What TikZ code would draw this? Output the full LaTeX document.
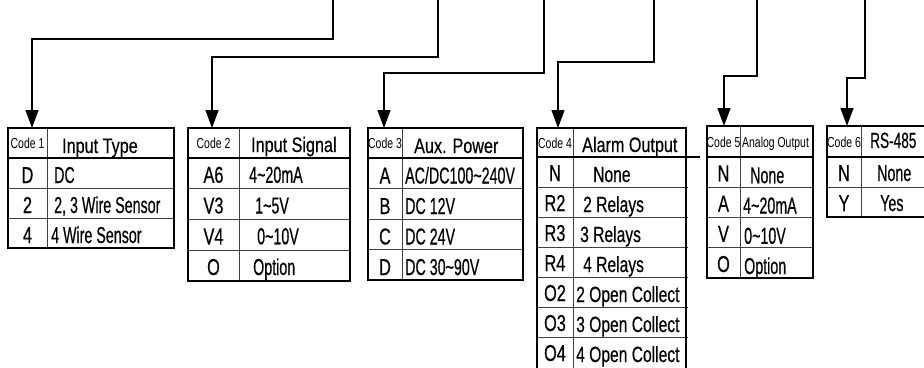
\documentclass[tikz,border=0pt]{standalone}
\usepackage{fontspec}
\setmainfont{Liberation Sans}[FakeStretch=0.62, FakeBold=0.4]
\newfontfamily\headfont{Liberation Sans}[FakeStretch=0.77, FakeBold=0.4]
\newfontfamily\widefont{Liberation Sans}[FakeStretch=0.71, FakeBold=0.4]
\newfontfamily\codefont{Liberation Sans}[FakeStretch=0.72]
\usetikzlibrary{arrows.meta}

\begin{document}
\begin{tikzpicture}[x=1pt, y=-1pt,
  frame/.style={line width=2.6pt},
  grid/.style={line width=1pt, black!75},
  conn/.style={line width=1.3pt, -{Triangle[length=18pt, width=13pt]}},
  cell/.style={inner sep=0pt, anchor=base west, font=\fontsize{23}{25}\selectfont},
  widecell/.style={cell, font=\widefont\fontsize{22}{25}\selectfont},
  head/.style={inner sep=0pt, anchor=base west, font=\headfont\fontsize{21}{23}\selectfont},
  key/.style={inner sep=0pt, anchor=base, font=\widefont\fontsize{23}{25}\selectfont},
  codelab/.style={inner sep=0pt, anchor=base, font=\codefont\fontsize{14.5}{16}\selectfont}]

\useasboundingbox (0,0) rectangle (924,367);

% ============================================================
%  TABLE 1  --  Input Type
% ============================================================
% frame (8,128) to (174,248), key column up to x = 47
\draw[grid] (47,128) -- (47,248);
\foreach \y in {188,218} \draw[grid] (8,\y) -- (174,\y);
\draw[frame] (8,158) -- (174,158);
\draw[frame] (8,128) rectangle (174,248);
\node[codelab] (t1code) at (27.5,148) {Code 1};
\node[head] (t1head) at (62,153) {Input Type};
\foreach \k/\v/\x [count=\i] in {D/DC/54, 2/{2, 3 Wire Sensor}/54, 4/4 Wire Sensor/51} {
  \node[key] (t1k\i) at (27.5,153+30*\i) {\k};
  \node[cell] (t1v\i) at (\x,153+30*\i) {\v};
}

% ============================================================
%  TABLE 2  --  Input Signal
% ============================================================
% frame (188,128) to (350,281), rows 30.75 high
\draw[grid] (239,128) -- (239,281);
\foreach \y in {188.75,219.5,250.25} \draw[grid] (188,\y) -- (350,\y);
\draw[frame] (188,158) -- (350,158);
\draw[frame] (188,128) rectangle (350,281);
\node[codelab] (t2code) at (213.5,148) {Code 2};
\node[head] (t2head) at (251,152) {Input Signal};
\foreach \k/\v/\x [count=\i] in {A6/4\textasciitilde20mA/249, V3/1\textasciitilde5V/255,
    V4/0\textasciitilde10V/257, O/Option/253} {
  \node[key] (t2k\i) at (213.5,152+30.75*\i) {\k};
  \node[cell] (t2v\i) at (\x,152+30.75*\i) {\v};
}

% ============================================================
%  TABLE 3  --  Aux. Power
% ============================================================
% frame (368,128) to (523,280), rows 30.5 high
\draw[grid] (402,128) -- (402,280);
\foreach \y in {188.5,219,249.5} \draw[grid] (368,\y) -- (523,\y);
\draw[frame] (368,158) -- (523,158);
\draw[frame] (368,128) rectangle (523,280);
\node[codelab] (t3code) at (385,148) {Code 3};
\node[head] (t3head) at (414,153) {Aux. Power};
\foreach \k/\v [count=\i] in {A/{AC/DC100\textasciitilde240V}, B/DC 12V, C/DC 24V,
    D/DC 30\textasciitilde90V} {
  \node[key] (t3k\i) at (385,153+30.5*\i) {\k};
  \node[cell] (t3v\i) at (405,153+30.5*\i) {\v};
}

% ============================================================
%  TABLE 4  --  Alarm Output (runs off the bottom edge)
% ============================================================
\draw[grid] (573,128) -- (573,370);
\foreach \y in {187,217,247,277,307,337} \draw[grid] (537,\y) -- (688,\y);
\draw[frame] (537,157) -- (700,157);
\draw[frame] (537,370) -- (537,128) -- (686,128) -- (686,370);
\node[codelab] (t4code) at (555,148) {Code 4};
\node[head] (t4head) at (582,152) {Alarm Output};
\foreach \k/\v/\x [count=\i] in {N/None/593, R2/2 Relays/583, R3/3 Relays/580,
    R4/4 Relays/583, O2/2 Open Collect/576, O3/3 Open Collect/576,
    O4/4 Open Collect/576} {
  \node[key] (t4k\i) at (555,151+30*\i) {\k};
  \node[widecell] (t4v\i) at (\x,152+30*\i) {\v};
}

% ============================================================
%  TABLE 5  --  Analog Output
% ============================================================
% frame (707,126) to (813,278), rows 30.25 high
\draw[grid] (740,126) -- (740,278);
\foreach \y in {187.25,217.5,247.75} \draw[grid] (707,\y) -- (813,\y);
\draw[frame] (707,157) -- (813,157);
\draw[frame] (707,126) rectangle (813,278);
\node[codelab] (t5code) at (723.5,147) {Code 5};
\node[head, font=\codefont\fontsize{14.5}{16}\selectfont] (t5head) at (742,147) {Analog Output};
\foreach \k/\v/\x [count=\i] in {N/None/750, A/4\textasciitilde20mA/743,
    V/0\textasciitilde10V/744, O/Option/744} {
  \node[key] (t5k\i) at (723.5,151+30.25*\i) {\k};
  \node[cell] (t5v\i) at (\x,153+30.25*\i) {\v};
}

% ============================================================
%  TABLE 6  --  RS-485 (runs off the right edge)
% ============================================================
\draw[grid] (861,126) -- (861,217);
\draw[grid] (827,187) -- (926,187);
\draw[frame] (827,157) -- (926,157);
\draw[frame] (926,126) -- (827,126) -- (827,217) -- (926,217);
\node[codelab] (t6code) at (844,147) {Code 6};
\node[cell, font=\fontsize{22}{23}\selectfont] (t6head) at (870,148) {RS-485};
\foreach \k/\v/\x [count=\i] in {N/None/877, Y/Yes/880} {
  \node[key] (t6k\i) at (844,151+30*\i) {\k};
  \node[cell] (t6v\i) at (\x,151+30*\i) {\v};
}

% ---- connectors from the top edge ----
\coordinate (src1) at (333,0);  \coordinate (top1) at (32,128);
\coordinate (src2) at (438,0);  \coordinate (top2) at (212,128);
\coordinate (src3) at (544,0);  \coordinate (top3) at (384,128);
\coordinate (src4) at (654,0);  \coordinate (top4) at (558,128);
\coordinate (src5) at (757,0);  \coordinate (top5) at (724,126);
\coordinate (src6) at (865,0);  \coordinate (top6) at (847,126);
\draw[conn] (src1) -- ++(0,39) -| (top1);
\draw[conn] (src2) -- ++(0,57) -| (top2);
\draw[conn] (src3) -- ++(0,73) -| (top3);
\draw[conn] (src4) -- ++(0,62) -| (top4);
\draw[conn] (src5) -- ++(0,76) -| (top5);
\draw[conn] (src6) -- ++(0,78) -| (top6);

\end{tikzpicture}
\end{document}
